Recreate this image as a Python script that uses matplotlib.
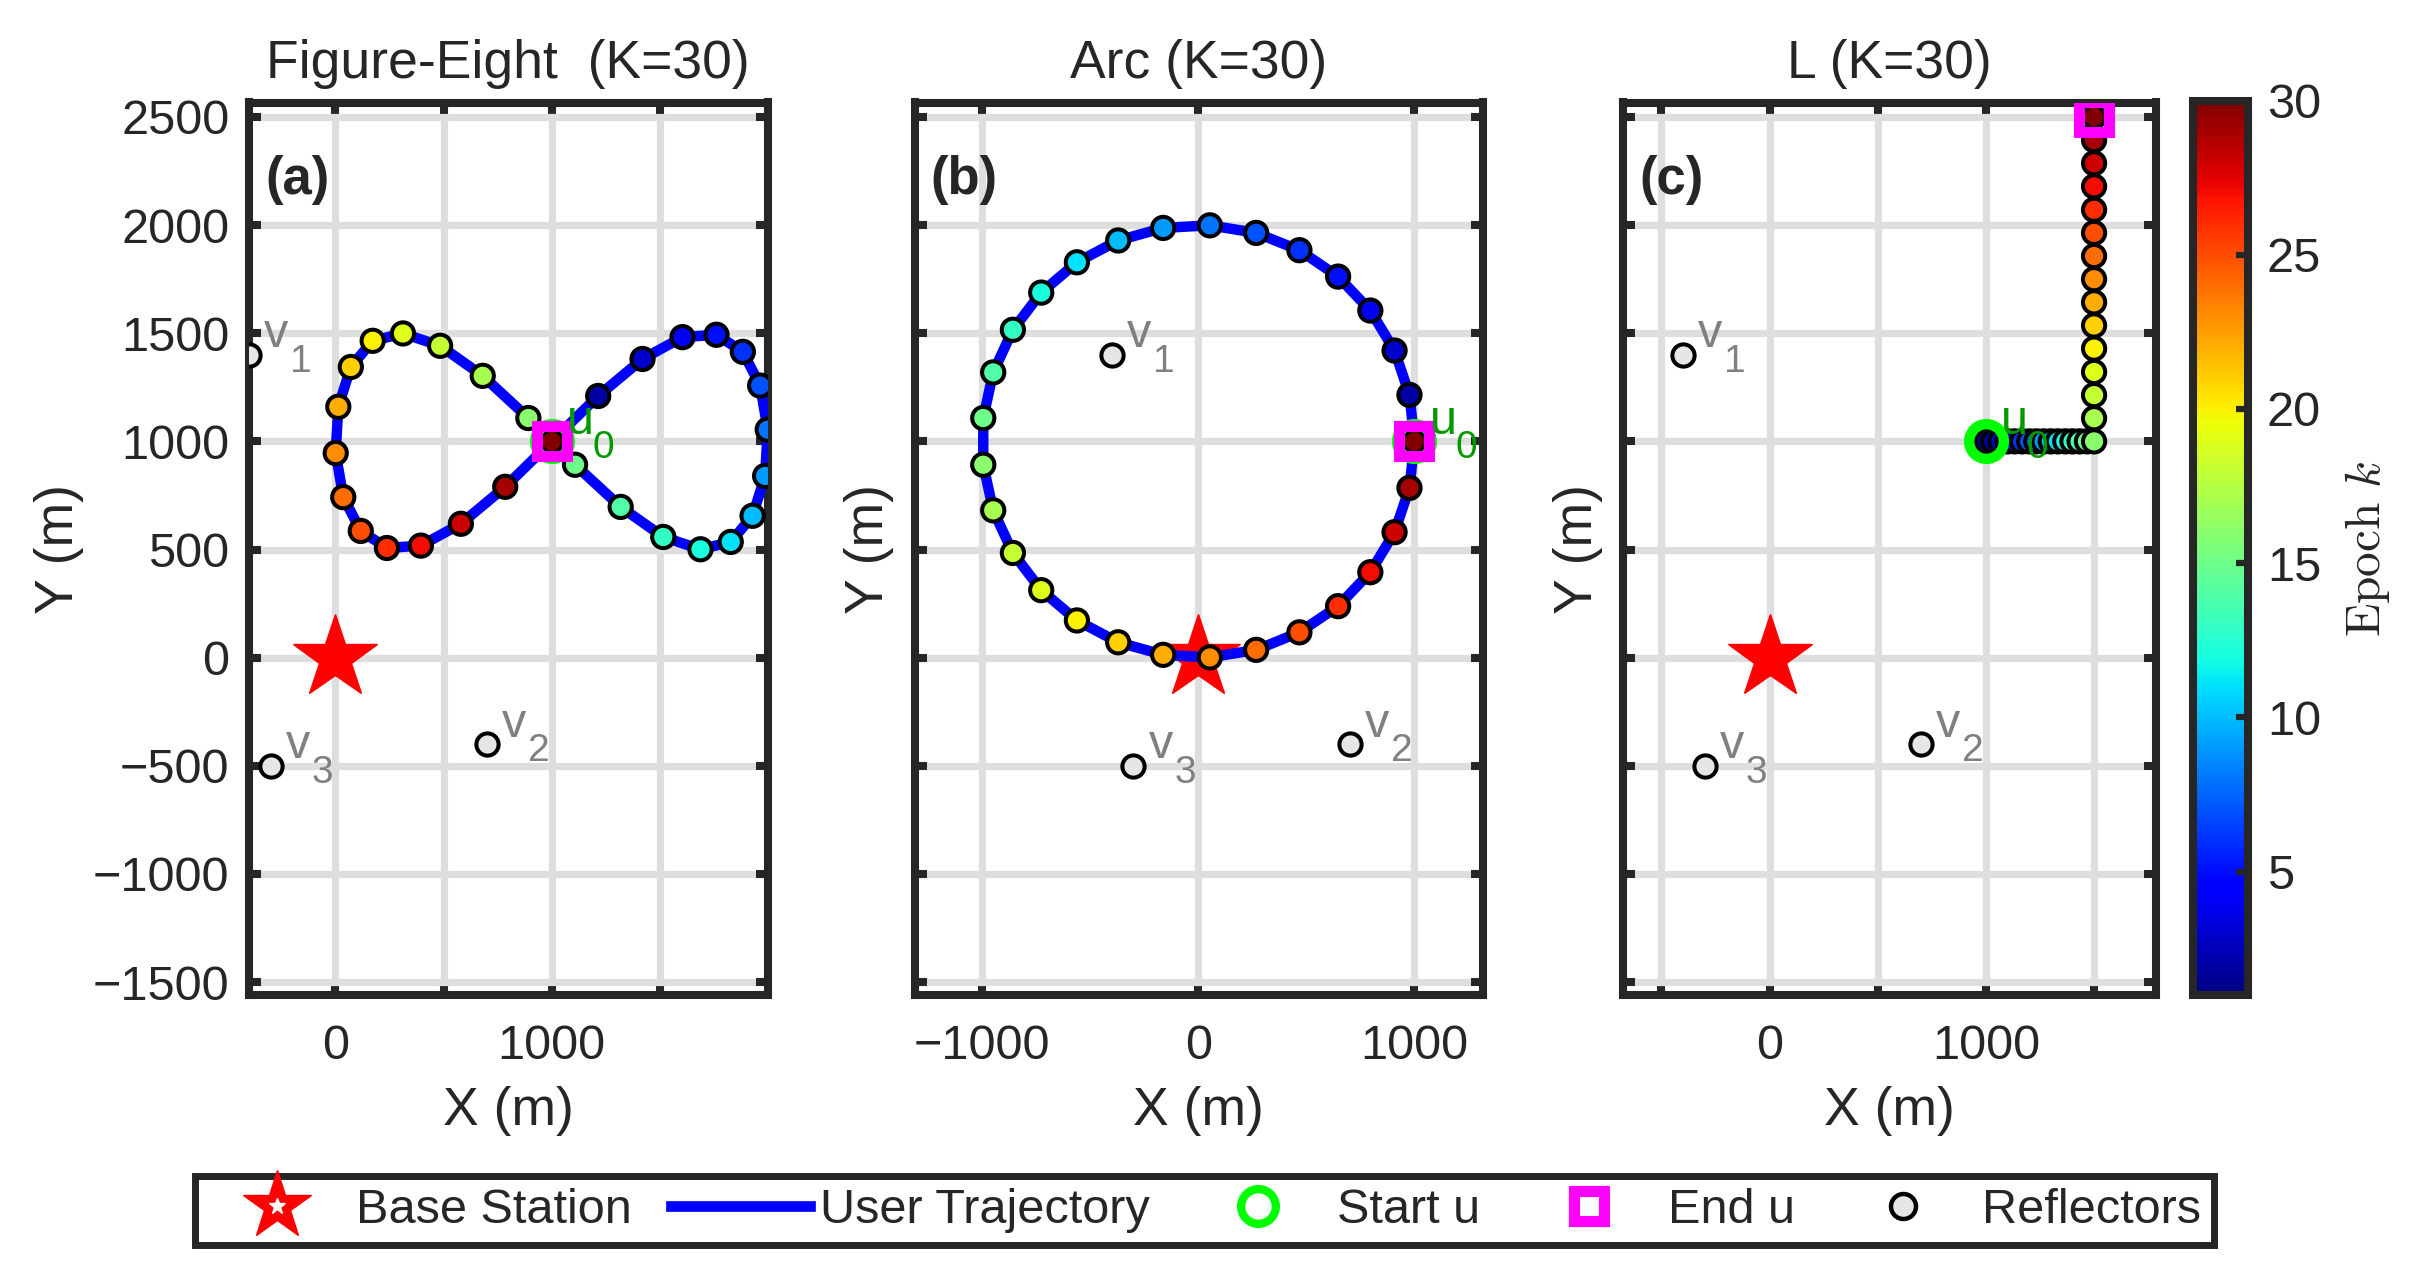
import numpy as np
import matplotlib
matplotlib.use('Agg')
import matplotlib.pyplot as plt
from matplotlib.lines import Line2D
from matplotlib.ticker import FixedLocator, FuncFormatter

plt.rcParams['font.family'] = ['Liberation Sans', 'DejaVu Sans']

DARK = (0.15, 0.15, 0.15)
GRID = (0.87, 0.87, 0.87)

# epoch index
k = np.arange(1, 31)

# user trajectories (m)
fig8_x = [1000, 1215, 1420, 1605, 1762, 1884, 1964, 1999, 1987, 1929,
          1828, 1688, 1516, 1319, 1108, 892, 681, 484, 312, 172,
          71, 13, 1, 36, 117, 238, 395, 580, 785, 1000]
fig8_y = [1000, 1210, 1381, 1482, 1493, 1414, 1258, 1054, 840, 656,
          535, 501, 558, 697, 892, 1108, 1303, 1442, 1499, 1465,
          1344, 1160, 946, 742, 586, 507, 518, 619, 790, 1000]

arc_x = [1000, 977, 908, 796, 647, 468, 268, 54, -162, -370,
         -561, -726, -857, -948, -994, -994, -948, -857, -726, -561,
         -370, -162, 54, 268, 468, 647, 796, 908, 977, 1000]
arc_y = [1000, 1215, 1420, 1605, 1762, 1884, 1964, 1999, 1987, 1929,
         1828, 1688, 1516, 1319, 1108, 892, 681, 484, 312, 172,
         71, 13, 1, 36, 117, 238, 395, 580, 785, 1000]

L_x = [1000, 1033, 1067, 1100, 1133, 1167, 1200, 1233, 1267, 1300,
       1333, 1367, 1400, 1433, 1467, 1500, 1500, 1500, 1500, 1500,
       1500, 1500, 1500, 1500, 1500, 1500, 1500, 1500, 1500, 1500]
L_y = [1000, 1000, 1000, 1000, 1000, 1000, 1000, 1000, 1000, 1000,
       1000, 1000, 1000, 1000, 1000, 1000, 1107, 1214, 1321, 1429,
       1536, 1643, 1750, 1857, 1964, 2071, 2179, 2286, 2393, 2500]

# base station and reflectors
bs_x, bs_y = [0], [0]
refl_x = [-400, 700, -300]
refl_y = [1400, -400, -500]
refl_names = ['1', '2', '3']

titles = ['Figure-Eight  (K=30)', 'Arc (K=30)', 'L (K=30)']
tags = ['(a)', '(b)', '(c)']
paths = [(fig8_x, fig8_y), (arc_x, arc_y), (L_x, L_y)]
xtick_sets = [[0, 500, 1000, 1500],
              [-1000, 0, 1000],
              [-500, 0, 500, 1000, 1500]]
yticks = [-1500, -1000, -500, 0, 500, 1000, 1500, 2000, 2500]

# layout in pixels (figure is 2422 x 1283 at dpi 100)
W, H = 2422, 1283
top_px, bot_px = 102.5, 995.0
ax_px = [(249.0, 767.5), (914.5, 1483.0), (1623.0, 2155.5)]
xlims = [(-400, 1998), (-1312, 1317), (-678, 1784)]
ylim = (-1560, 2567)
ylab_x = [-0.318, -0.0354, -0.038]

fig = plt.figure(figsize=(W / 100, H / 100), dpi=100)


def fmt_thousands(v, pos):
    if v % 1000 != 0:
        return ''
    return f'{v:.0f}'.replace('-', '\u2212')


def fmt_all(v, pos):
    return f'{v:.0f}'.replace('-', '\u2212')


def sub_label(ax, x, y, base, sub, color):
    ax.annotate(base, xy=(x, y), xytext=(15, 7.5), textcoords='offset pixels',
                ha='left', va='baseline', fontsize=35, color=color, zorder=8)
    ax.annotate(sub, xy=(x, y), xytext=(41, -17), textcoords='offset pixels',
                ha='left', va='baseline', fontsize=28, color=color, zorder=8)


sc = None
for i in range(3):
    x0, x1 = ax_px[i]
    ax = fig.add_axes([x0 / W, 1 - bot_px / H, (x1 - x0) / W, (bot_px - top_px) / H])
    px, py = paths[i]

    ax.set_xlim(xlims[i])
    ax.set_ylim(ylim)
    ax.set_axisbelow(True)
    ax.grid(True, color=GRID, linewidth=5.2)

    ax.plot(bs_x, bs_y, ls='none', marker='*', ms=63, color='red', zorder=2)
    ax.plot(px, py, color='blue', lw=7.5, zorder=3)
    ax.plot(refl_x, refl_y, ls='none', marker='o', ms=16, mfc=(0.9, 0.9, 0.9),
            mec='black', mew=2.9, zorder=3)
    sc = ax.scatter(px, py, c=k, cmap='jet', vmin=1, vmax=30, s=16 ** 2,
                    edgecolors='black', linewidths=2.9, zorder=4)
    ax.plot(px[0], py[0], ls='none', marker='o', ms=25, mfc='none',
            mec=(0, 1, 0), mew=7.5, zorder=5)
    ax.plot(px[-1], py[-1], ls='none', marker='s', ms=21, mfc='none',
            mec=(1, 0, 1), mew=8, zorder=6)

    for rx, ry, nm in zip(refl_x, refl_y, refl_names):
        sub_label(ax, rx, ry, 'v', nm, (0.5, 0.5, 0.5))
    sub_label(ax, px[0], py[0], 'u', '0', (0, 0.6, 0))

    ax.xaxis.set_major_locator(FixedLocator(xtick_sets[i]))
    ax.xaxis.set_major_formatter(FuncFormatter(fmt_thousands))
    ax.yaxis.set_major_locator(FixedLocator(yticks))
    ax.yaxis.set_major_formatter(FuncFormatter(fmt_all))
    ax.tick_params(direction='in', length=8.6, width=5.8, color=DARK,
                   labelsize=35, labelcolor=DARK, top=True, right=True)
    ax.tick_params(axis='x', pad=21)
    ax.tick_params(axis='y', pad=14)
    if i > 0:
        ax.tick_params(labelleft=False)
    for s in ax.spines.values():
        s.set_linewidth(5.8)
        s.set_color(DARK)

    ax.set_title(titles[i], fontsize=38.5, pad=17.5, color=DARK)
    ax.set_xlabel('X (m)', fontsize=38.5, color=DARK)
    ax.xaxis.set_label_coords(0.5, -0.1015)
    ax.set_ylabel('Y (m)', fontsize=38.5, color=DARK)
    ax.yaxis.set_label_coords(ylab_x[i], 0.5)

    ax.annotate(tags[i], xy=(0, 1), xycoords='axes fraction', xytext=(16, -52.5),
                textcoords='offset pixels', ha='left', va='top', fontsize=38,
                fontweight='bold', color=DARK, zorder=8)

# colorbar
cax = fig.add_axes([2193 / W, 1 - bot_px / H, 54.5 / W, (bot_px - 100.5) / H])
cb = fig.colorbar(sc, cax=cax, ticks=[5, 10, 15, 20, 25, 30])
cb.outline.set_linewidth(5.8)
cb.outline.set_edgecolor(DARK)
cax.tick_params(direction='in', length=9, width=4.5, color=DARK,
                labelsize=35, labelcolor=DARK, pad=14)
fig.text(2367 / W, 1 - 549 / H, r'$\mathrm{Epoch}\ k$', rotation=90,
         ha='center', va='center', fontsize=35.5, color=DARK, math_fontfamily='cm')

# legend
h_bs = (Line2D([], [], ls='none', marker='*', ms=52, color='red'),
        Line2D([], [], ls='none', marker='*', ms=12, color='white'))
h_traj = Line2D([], [], color='blue', lw=7.7)
h_start = Line2D([], [], ls='none', marker='o', ms=25, mfc='none', mec=(0, 1, 0), mew=6)
h_end = Line2D([], [], ls='none', marker='s', ms=21, mfc='none', mec=(1, 0, 1), mew=8)
h_refl = Line2D([], [], ls='none', marker='o', ms=18, mfc=(0.9, 0.9, 0.9),
                mec='black', mew=3.2)
leg = fig.legend([h_bs, h_traj, h_start, h_end, h_refl],
                 ['Base Station', 'User Trajectory', 'Start u', 'End u', 'Reflectors'],
                 loc='center', bbox_to_anchor=(1204.5 / W, 1 - 1210.5 / H), ncol=5,
                 fontsize=35, frameon=True, fancybox=False, framealpha=1,
                 handlelength=2.86, handletextpad=0.2, columnspacing=0.8,
                 borderpad=0.25, borderaxespad=0)
leg.get_frame().set_linewidth(5)
leg.get_frame().set_edgecolor(DARK)
for t in leg.get_texts():
    t.set_color(DARK)

fig.savefig('out.png', dpi=100)
